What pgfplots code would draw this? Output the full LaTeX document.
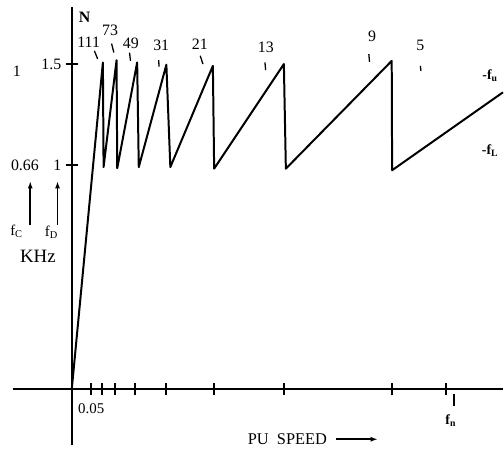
\documentclass[border=0pt]{standalone}
\usepackage{fontspec}
\setmainfont{Liberation Serif}
\usepackage{pgfplots}
\pgfplotsset{compat=1.18}
\usetikzlibrary{arrows.meta}
\begin{document}
\begin{tikzpicture}
\begin{axis}[
  scale only axis,
  width=504bp, height=459bp,
  xmin=-0.1888, xmax=1.1516,
  ymin=-0.306, ymax=1.7295,
  axis lines=middle,
  axis line style={-, line width=2.1bp},
  x axis line style={shorten <=12bp},
  y axis line style={shorten <=13bp, shorten >=6bp},
  clip=false,
  xtick={0.0505,0.0798,0.1144,0.1702,0.2527,0.3803,0.5673,0.8545,0.9992},
  xticklabels={0.05,,,,,,,,},
  ytick={1,1.449},
  yticklabels={1,1.5},
  tick align=center,
  major tick length=12bp,
  tick style={line width=2bp, black},
  /pgf/number format/assume math mode=true,
  xticklabel style={font=\fontsize{15}{16}\selectfont, anchor=north west, xshift=-16bp, yshift=-5bp},
  yticklabel style={font=\fontsize{16}{17}\selectfont, anchor=east, xshift=-1bp},
]
\addplot[black, line width=2bp, line join=round] coordinates {
  (0,0)
  (0.0832,1.456)
  (0.0850,0.99)
  (0.1197,1.466)
  (0.1215,0.985)
  (0.1747,1.456)
  (0.1790,0.99)
  (0.2527,1.446)
  (0.2633,0.99)
  (0.3769,1.441)
  (0.3803,0.983)
  (0.5665,1.449)
  (0.5718,0.983)
  (0.8545,1.463)
  (0.8556,0.976)
  (1.1516,1.323)
};
% harmonic labels
\begin{scope}[every node/.style={font=\fontsize{16}{17}\selectfont, inner sep=0pt}]
\node at (axis cs:0.0346,1.659) {\textbf{N}};
\node at (axis cs:0.0452,1.545) {111};
\node at (axis cs:0.1024,1.601) {73};
\node at (axis cs:0.158,1.539) {49};
\node at (axis cs:0.239,1.534) {31};
\node at (axis cs:0.342,1.539) {21};
\node at (axis cs:0.5186,1.523) {13};
\node at (axis cs:0.8019,1.574) {9};
\node at (axis cs:0.931,1.534) {5};
\end{scope}
\begin{scope}[line width=1.3bp]
\draw (axis cs:0.0604,1.508) -- (axis cs:0.0691,1.472);
\draw (axis cs:0.1064,1.540) -- (axis cs:0.1125,1.500);
\draw (axis cs:0.1543,1.500) -- (axis cs:0.1569,1.463);
\draw (axis cs:0.2322,1.466) -- (axis cs:0.2332,1.437);
\draw (axis cs:0.3431,1.486) -- (axis cs:0.3503,1.449);
\draw (axis cs:0.5160,1.456) -- (axis cs:0.5178,1.422);
\draw (axis cs:0.7934,1.493) -- (axis cs:0.7952,1.459);
\draw (axis cs:0.9310,1.441) -- (axis cs:0.9326,1.419);
\end{scope}
% left labels
\node[font=\fontsize{16}{17}\selectfont, inner sep=0pt] at (axis cs:-0.1463,1.419) {1};
\node[font=\fontsize{16}{17}\selectfont, inner sep=0pt] at (axis cs:-0.125,1.0) {0.66};
\draw[line width=1.5bp, -{Latex[length=7bp,width=5bp]}] (axis cs:-0.1109,0.7317) -- (axis cs:-0.1109,0.9268);
\draw[line width=1.5bp, -{Latex[length=7bp,width=5bp]}] (axis cs:-0.0380,0.7317) -- (axis cs:-0.0380,0.9268);
\node[font=\fontsize{15}{16}\selectfont, inner sep=0pt] at (axis cs:-0.1476,0.705) {f\textsubscript{C}};
\node[font=\fontsize{15}{16}\selectfont, inner sep=0pt] at (axis cs:-0.0545,0.700) {f\textsubscript{D}};
\node[font=\fontsize{19}{20}\selectfont, inner sep=0pt] at (axis cs:-0.0904,0.594) {KHz};
% right labels
\node[font=\fontsize{14}{15}\selectfont\bfseries, inner sep=0pt] at (axis cs:1.117,1.399) {-f\textsubscript{u}};
\node[font=\fontsize{14}{15}\selectfont\bfseries, inner sep=0pt] at (axis cs:1.117,1.064) {-f\textsubscript{L}};
% x labels
\node[font=\fontsize{14}{15}\selectfont\bfseries, inner sep=0pt] at (axis cs:1.012,-0.137) {f\textsubscript{n}};
\draw[line width=1.3bp] (axis cs:1.021,-0.022) -- (axis cs:1.021,-0.075);
\node[font=\fontsize{16.5}{17}\selectfont, inner sep=0pt] at (axis cs:0.576,-0.222) {PU\ \ SPEED};
\draw[line width=2bp, -{Latex[length=7bp,width=5bp]}] (axis cs:0.706,-0.222) -- (axis cs:0.817,-0.222);
\end{axis}
\end{tikzpicture}
\end{document}
